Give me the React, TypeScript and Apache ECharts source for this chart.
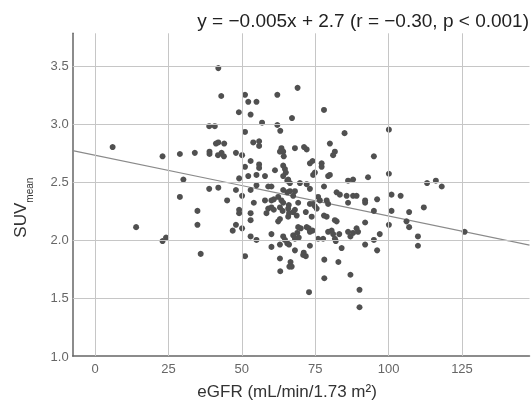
import React, { useEffect, useRef } from 'react';
import * as echarts from 'echarts';

const egfr = [
  42.0, 43.0, 51.1, 52.2, 55.0, 62.1, 69.0, 49.0, 53.0, 78.0,
  67.1, 56.9, 62.1, 63.1, 51.1, 85.0, 38.9, 40.8, 100.1, 6.0,
  41.2, 42.0, 44.0, 53.9, 55.9, 55.9, 23.0, 28.9, 34.0, 39.0,
  39.0, 41.9, 43.1, 43.9, 48.0, 50.1, 63.5, 64.1, 63.0, 64.3,
  68.1, 71.2, 72.1, 80.0, 81.7, 81.1, 95.0, 53.0, 51.1, 55.9,
  55.9, 61.3, 64.1, 64.7, 65.0, 64.1, 73.2, 74.1, 77.2, 77.2,
  74.9, 74.3, 80.0, 79.4, 86.2, 87.9, 49.1, 52.2, 55.0, 57.9,
  65.5, 66.4, 65.8, 69.8, 72.1, 38.9, 42.0, 48.0, 50.1, 53.0,
  55.0, 59.0, 60.1, 64.1, 65.5, 66.4, 68.1, 67.5, 73.2, 78.0,
  82.3, 83.4, 85.7, 87.9, 45.0, 54.1, 57.9, 60.1, 60.9, 62.4,
  63.5, 64.1, 66.0, 65.8, 69.2, 73.2, 74.3, 74.9, 75.5, 76.0,
  76.6, 78.9, 79.4, 86.2, 49.1, 49.1, 53.0, 59.0, 60.1, 60.9,
  63.0, 63.9, 66.1, 67.5, 68.1, 71.8, 73.8, 78.9, 78.0, 58.4,
  53.0, 62.4, 63.0, 65.8, 68.7, 82.3, 81.7, 48.0, 50.1, 46.9,
  70.1, 69.2, 72.1, 72.8, 74.1, 73.2, 60.1, 64.1, 64.7, 65.5,
  66.1, 67.5, 68.9, 69.4, 68.1, 79.4, 80.6, 81.1, 81.7, 82.0,
  76.0, 77.7, 83.2, 86.2, 87.9, 89.1, 89.6, 53.0, 55.0, 63.0,
  60.1, 73.2, 68.1, 71.1, 71.8, 70.9, 84.0, 87.0, 51.1, 63.0,
  36.0, 30.1, 28.9, 34.9, 34.9, 14.0, 23.0, 24.2, 93.0, 100.1,
  113.1, 116.1, 118.1, 89.1, 92.0, 92.0, 96.1, 101.0, 104.1, 95.0,
  101.0, 107.0, 112.0, 106.1, 107.0, 100.1, 92.0, 97.0, 110.0, 95.0,
  92.0, 96.1, 110.0, 125.9, 78.1, 82.9, 66.6, 66.2, 67.0, 63.1,
  87.0, 78.1, 72.9, 90.1, 90.1,
];

const suv = [
  3.48, 3.24, 3.25, 3.19, 3.19, 3.25, 3.31, 3.10, 3.08, 3.12,
  3.05, 3.01, 2.99, 2.94, 2.93, 2.92, 2.98, 2.98, 2.95, 2.80,
  2.83, 2.84, 2.83, 2.84, 2.85, 2.81, 2.72, 2.74, 2.75, 2.76,
  2.74, 2.73, 2.75, 2.72, 2.75, 2.73, 2.79, 2.76, 2.76, 2.72,
  2.79, 2.80, 2.78, 2.83, 2.76, 2.73, 2.72, 2.68, 2.63, 2.65,
  2.62, 2.60, 2.64, 2.61, 2.58, 2.55, 2.66, 2.68, 2.66, 2.63,
  2.58, 2.56, 2.56, 2.55, 2.51, 2.52, 2.53, 2.55, 2.56, 2.55,
  2.51, 2.49, 2.52, 2.49, 2.48, 2.44, 2.45, 2.43, 2.38, 2.43,
  2.47, 2.46, 2.46, 2.43, 2.41, 2.42, 2.42, 2.38, 2.44, 2.46,
  2.41, 2.39, 2.38, 2.38, 2.34, 2.32, 2.34, 2.34, 2.35, 2.37,
  2.34, 2.32, 2.30, 2.27, 2.32, 2.31, 2.31, 2.29, 2.27, 2.37,
  2.34, 2.34, 2.31, 2.32, 2.26, 2.23, 2.23, 2.27, 2.28, 2.26,
  2.28, 2.25, 2.23, 2.24, 2.26, 2.24, 2.20, 2.20, 2.21, 2.23,
  2.17, 2.16, 2.18, 2.20, 2.21, 2.16, 2.17, 2.13, 2.10, 2.08,
  2.10, 2.11, 2.11, 2.10, 2.08, 2.07, 2.05, 2.03, 2.00, 1.97,
  1.96, 2.04, 2.06, 2.02, 2.01, 2.07, 2.08, 2.05, 2.01, 1.99,
  2.01, 2.01, 2.05, 2.07, 2.06, 2.10, 2.07, 2.03, 2.00, 1.96,
  1.94, 1.95, 1.91, 1.89, 1.86, 1.87, 1.93, 2.03, 1.86, 1.84,
  1.88, 2.52, 2.37, 2.25, 2.13, 2.11, 1.99, 2.02, 2.54, 2.57,
  2.49, 2.51, 2.46, 2.38, 2.34, 2.32, 2.35, 2.39, 2.38, 2.25,
  2.25, 2.24, 2.28, 2.16, 2.11, 2.13, 2.15, 2.05, 2.03, 2.00,
  1.96, 1.91, 1.95, 2.07, 1.83, 1.81, 1.81, 1.77, 1.77, 1.73,
  1.70, 1.67, 1.55, 1.57, 1.42,
];

const xTicks = [0, 25, 50, 75, 100, 125];
const yTicks = [1.0, 1.5, 2.0, 2.5, 3.0, 3.5];
const fitX = [-7.6, 148];
const fitY = [2.77, 1.955];
const titleText = 'y = −0.005x + 2.7 (r = −0.30, p < 0.001)';
const xName = 'eGFR (mL/min/1.73 m²)';

export default function App() {
  const ref = useRef<HTMLDivElement>(null);
  useEffect(() => {
    const chart = echarts.init(ref.current!, null, { renderer: 'svg' });
    const font = '"Liberation Sans", Arial, sans-serif';
    chart.setOption({
      animation: false,
      title: {
        text: titleText,
        right: 2,
        top: 11,
        padding: 0,
        textStyle: { fontSize: 19, fontWeight: 'normal', color: '#222', fontFamily: font },
      },
      grid: { left: 72.7, right: 1.5, top: 33.3, bottom: 43.7, containLabel: false },
      xAxis: {
        type: 'value',
        min: -7.6,
        max: 148,
        name: xName,
        nameLocation: 'middle',
        nameGap: 27,
        nameTextStyle: { fontSize: 17, color: '#333', fontFamily: font, padding: [0, 28, 0, 0] },
        axisLine: { show: true, onZero: false, lineStyle: { color: '#666', width: 1.5 } },
        axisTick: { show: false },
        splitLine: { show: false },
        axisLabel: {
          customValues: xTicks,
          color: '#666',
          fontSize: 13,
          fontFamily: font,
          margin: 6,
          formatter: (v: number) => String(v),
        },
      },
      yAxis: {
        type: 'value',
        min: 1.0,
        max: 3.78,
        name: '{a|SUV}{b|mean}',
        nameLocation: 'middle',
        nameGap: 38,
        nameRotate: 90,
        nameTextStyle: {
          padding: [0, 26, 0, 0],
          rich: {
            a: { fontSize: 17, color: '#333', fontFamily: font, lineHeight: 20 },
            b: { fontSize: 10, color: '#333', fontFamily: font, lineHeight: 28, verticalAlign: 'bottom' },
          },
        },
        axisLine: { show: true, onZero: false, lineStyle: { color: '#666', width: 1.5 } },
        axisTick: { show: false },
        splitLine: { show: false },
        axisLabel: {
          customValues: yTicks,
          color: '#666',
          fontSize: 13,
          fontFamily: font,
          margin: 4,
          formatter: (v: number) => v.toFixed(1),
        },
      },
      series: [
        {
          type: 'line',
          data: [],
          silent: true,
          z: 1,
          markLine: {
            silent: true,
            symbol: ['none', 'none'],
            label: { show: false },
            emphasis: { disabled: true },
            lineStyle: { color: '#c6c6c6', width: 1, type: 'solid' },
            data: [
              ...xTicks.map((v) => ({ xAxis: v })),
              ...yTicks.filter((v) => v > 1).map((v) => ({ yAxis: v })),
            ],
          },
        },
        {
          type: 'line',
          data: fitX.map((x, i) => [x, fitY[i]]),
          symbol: 'none',
          silent: true,
          lineStyle: { color: '#8a8a8a', width: 1.2 },
          z: 2,
        },
        {
          type: 'scatter',
          data: egfr.map((x, i) => [x, suv[i]]),
          symbolSize: 6,
          itemStyle: { color: '#505050', opacity: 1 },
          z: 3,
        },
      ],
    });
    return () => chart.dispose();
  }, []);
  return <div ref={ref} style={{ position: 'fixed', left: 0, top: 0, width: 531, height: 405 }} />;
}
